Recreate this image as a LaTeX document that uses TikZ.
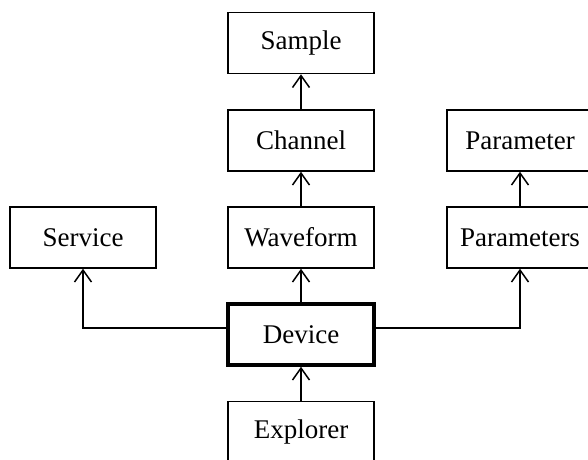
\documentclass[tikz,border=0pt]{standalone}
\usepackage{fontspec}
\setmainfont{Liberation Serif}
\usetikzlibrary{arrows.meta}

\tikzset{
  cls/.style={draw, line width=1.5pt, minimum width=146pt, minimum height=61pt,
    inner sep=0pt, font=\fontsize{27}{31}\selectfont},
  main/.style={cls, line width=3.5pt},
  uses/.style={line width=1.5pt, -{Straight Barb[length=12pt,width=17pt,line width=1.5pt]}}
}

\begin{document}
\begin{tikzpicture}[x=1pt,y=1pt]
\useasboundingbox (0,0) rectangle (588,459);

\node[cls]  (sample)     at (301,416)   {Sample};
\node[cls]  (channel)    at (301,318.5) {Channel};
\node[cls]  (waveform)   at (301,221.5) {Waveform};
\node[main] (device)     at (301,124.5) {Device};
\node[cls]  (explorer)   at (301,27)    {Explorer};

\node[cls]  (service)    at (83,221.5)  {Service};
\node[cls]  (parameters) at (520,221.5) {Parameters};
\node[cls]  (parameter)  at (520,318.5) {Parameter};

\coordinate (devleft)  at ([yshift=6.5pt]device.west);
\coordinate (devright) at ([yshift=6.5pt]device.east);

\draw[uses] (channel)    -- (sample);
\draw[uses] (waveform)   -- (channel);
\draw[uses] (device)     -- (waveform);
\draw[uses] (explorer)   -- (device);
\draw[uses] (parameters) -- (parameter);

\draw[uses] (devleft)  -| (service);
\draw[uses] (devright) -| (parameters);

\end{tikzpicture}
\end{document}
